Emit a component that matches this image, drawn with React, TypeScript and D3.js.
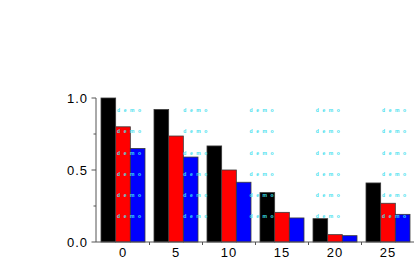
import React from "react";
import * as d3 from "d3";

const categories = ["0", "5", "10", "15", "20", "25"];
const seriesNames = ["A", "B", "C"];
const seriesA = [1.0, 0.92, 0.667, 0.343, 0.162, 0.41];
const seriesB = [0.8, 0.736, 0.5, 0.206, 0.051, 0.269];
const seriesC = [0.65, 0.59, 0.415, 0.167, 0.044, 0.192];
const colors = ["#000000", "#ff0000", "#0000ff"];
const yTicks = [0, 0.5, 1.0];
const yMinorTicks = [0.25, 0.75];
const wmRows = [0.917, 0.769, 0.621, 0.473, 0.327, 0.181];
const wmCols = [0, 1, 2, 3, 4];

export default function App() {
  const W = 414, H = 276;
  const left = 96.5, right = 414.5, top = 98, bottom = 242;
  const x = d3.scaleBand<string>().domain(categories).range([left, right]).paddingInner(0).paddingOuter(0);
  const inner = d3.scaleBand<string>().domain(seriesNames).range([4.5, x.bandwidth() - 4.5]).padding(0);
  const y = d3.scaleLinear().domain([0, 1]).range([bottom, top]);
  const series = [seriesA, seriesB, seriesC];
  const wmX = d3.scaleLinear().domain([0, 4]).range([117, 382]);
  const font = "'Liberation Sans', Arial, Helvetica, sans-serif";

  return (
    <svg width={W} height={H} style={{ position: "absolute", left: 0, top: 0, display: "block" }}>
      <rect x={0} y={0} width={W} height={H} fill="#fff" />
      {categories.map((c, i) => (
        <g key={c}>
          {series.map((s, j) => (
            <rect
              key={j}
              x={(x(c) as number) + (inner(seriesNames[j]) as number)}
              y={y(s[i])}
              width={inner.bandwidth()}
              height={bottom - y(s[i])}
              fill={colors[j]}
              stroke="#3a3a3a"
              strokeWidth={0.8}
            />
          ))}
        </g>
      ))}
      {/* watermark */}
      {wmCols.map((c) =>
        wmRows.map((r, k) => (
          <text
            key={`${c}-${k}`}
            x={wmX(c)}
            y={y(r) + 2}
            fontSize={5}
            fontFamily={font}
            fontWeight="bold"
            letterSpacing={3.6}
            fill="#3fe0ee"
          >
            demo
          </text>
        ))
      )}
      {/* y axis */}
      <line x1={96} x2={96} y1={top} y2={bottom} stroke="#555" strokeWidth={1} />
      {yTicks.map((t) => (
        <g key={t}>
          <line x1={91.5} x2={96} y1={y(t)} y2={y(t)} stroke="#555" strokeWidth={1} />
          <text
            x={88}
            y={y(t)}
            dy="0.35em"
            textAnchor="end"
            fontSize={13}
            fontFamily={font}
            letterSpacing={1}
            fill="#000"
          >
            {t.toFixed(1)}
          </text>
        </g>
      ))}
      {yMinorTicks.map((t) => (
        <line key={t} x1={93.5} x2={96} y1={y(t)} y2={y(t)} stroke="#555" strokeWidth={1} />
      ))}
      {/* x axis */}
      <line x1={96} x2={W} y1={bottom} y2={bottom} stroke="#555" strokeWidth={1} />
      {categories.map((c, i) => (
        <g key={c}>
          {i > 0 && (
            <line x1={x(c) as number} x2={x(c) as number} y1={bottom} y2={bottom + 3} stroke="#555" strokeWidth={1} />
          )}
          <text
            x={(x(c) as number) + x.bandwidth() / 2}
            y={bottom + 15}
            textAnchor="middle"
            fontSize={13}
            fontFamily={font}
            letterSpacing={1}
            fill="#000"
          >
            {c}
          </text>
        </g>
      ))}
    </svg>
  );
}
